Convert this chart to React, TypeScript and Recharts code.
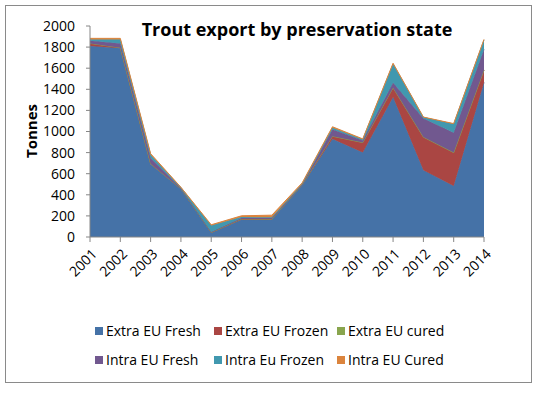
import { Area, AreaChart, XAxis, YAxis } from 'recharts'

const years = ['2001', '2002', '2003', '2004', '2005', '2006', '2007', '2008', '2009', '2010', '2011', '2012', '2013', '2014']

const extraEuFresh = [1810, 1790, 690, 455, 40, 163, 165, 490, 930, 800, 1325, 632, 483, 1465]
const extraEuFrozen = [25, 5, 5, 3, 3, 8, 5, 5, 25, 95, 90, 315, 317, 118]
const extraEuCured = [0, 0, 0, 0, 0, 0, 0, 0, 0, 0, 0, 0, 0, 0]
const intraEuFresh = [25, 40, 55, 5, 5, 10, 10, 5, 65, 20, 48, 177, 187, 195]
const intraEuFrozen = [13, 38, 30, 5, 60, 8, 7, 5, 15, 10, 177, 10, 83, 90]
const intraEuCured = [10, 10, 10, 3, 8, 12, 20, 8, 10, 5, 7, 3, 5, 5]

const yTicks = [0, 200, 400, 600, 800, 1000, 1200, 1400, 1600, 1800, 2000]

const series = [
  { key: 'extraEuFresh', name: 'Extra EU Fresh', color: '#4572A7', values: extraEuFresh },
  { key: 'extraEuFrozen', name: 'Extra EU Frozen', color: '#AA4643', values: extraEuFrozen },
  { key: 'extraEuCured', name: 'Extra EU cured', color: '#89A54E', values: extraEuCured },
  { key: 'intraEuFresh', name: 'Intra EU Fresh', color: '#71588F', values: intraEuFresh },
  { key: 'intraEuFrozen', name: 'Intra Eu Frozen', color: '#4198AF', values: intraEuFrozen },
  { key: 'intraEuCured', name: 'Intra EU Cured', color: '#DB843D', values: intraEuCured },
]

const data = years.map((year, i) => {
  const row: Record<string, string | number> = { year }
  series.forEach((s) => {
    row[s.key] = s.values[i]
  })
  return row
})

const FONT = '"Open Sans", Lato, sans-serif'
const AXIS_GRAY = '#868686'

function YearTick({ x, y, payload }: { x?: number; y?: number; payload?: { value: string } }) {
  const tx = (x ?? 0) + 4
  const ty = (y ?? 0) + 9
  return (
    <text
      x={tx}
      y={ty}
      transform={`rotate(-45 ${tx} ${ty})`}
      textAnchor="end"
      dominantBaseline="central"
      fontSize={14}
      fontFamily={FONT}
      fill="#000"
    >
      {payload?.value}
    </text>
  )
}

// two rows of three, Excel style
const legendCols = [95, 214, 337]

function ChartLegend() {
  return (
    <div style={{ position: 'absolute', left: 0, top: 322, width: 542, height: 60, fontFamily: FONT, fontSize: 14, color: '#000' }}>
      {series.map((s, i) => {
        const col = i % 3
        const row = Math.floor(i / 3)
        return (
          <div
            key={s.key}
            style={{
              position: 'absolute',
              left: legendCols[col],
              top: row * 29,
              display: 'flex',
              alignItems: 'center',
              whiteSpace: 'nowrap',
              lineHeight: '18px',
            }}
          >
            <span style={{ width: 8, height: 8, background: s.color, display: 'inline-block', marginRight: 3 }} />
            {s.name}
          </div>
        )
      })}
    </div>
  )
}

export default function App() {
  return (
    <div style={{ position: 'absolute', left: 0, top: 0, width: 542, height: 393, background: '#fff' }}>
      <div
        style={{
          position: 'absolute',
          left: 5,
          top: 5,
          width: 527,
          height: 378,
          border: '1px solid #8a8a8a',
          boxSizing: 'border-box',
        }}
      />
      <AreaChart
        width={542}
        height={393}
        data={data}
        margin={{ top: 26, right: 58, bottom: 116, left: 0 }}
        style={{ position: 'absolute', left: 0, top: 0 }}
      >
        <XAxis
          dataKey="year"
          interval={0}
          tick={<YearTick />}
          tickLine={{ stroke: AXIS_GRAY }}
          axisLine={{ stroke: AXIS_GRAY }}
          tickSize={5}
          tickMargin={0}
          height={40}
        />
        <YAxis
          domain={[0, 2000]}
          ticks={yTicks}
          interval={0}
          width={90}
          tickSize={4}
          tickMargin={11}
          tick={{ fontSize: 14, fill: '#000', fontFamily: FONT }}
          tickLine={{ stroke: AXIS_GRAY }}
          axisLine={{ stroke: AXIS_GRAY }}
        />
        {series.map((s) => (
          <Area
            key={s.key}
            type="linear"
            dataKey={s.key}
            name={s.name}
            stackId="1"
            fill={s.color}
            fillOpacity={1}
            stroke={s.color}
            strokeWidth={1}
            isAnimationActive={false}
          />
        ))}
      </AreaChart>
      <div
        style={{
          position: 'absolute',
          left: 0,
          width: 594,
          top: 17,
          textAlign: 'center',
          fontFamily: FONT,
          fontWeight: 700,
          fontSize: 18,
          lineHeight: '24px',
        }}
      >
        Trout export by preservation state
      </div>
      <div
        style={{
          position: 'absolute',
          left: 31,
          top: 131,
          transform: 'translate(-50%, -50%) rotate(-90deg)',
          fontFamily: FONT,
          fontWeight: 700,
          fontSize: 15,
          whiteSpace: 'nowrap',
        }}
      >
        Tonnes
      </div>
      <ChartLegend />
    </div>
  )
}
